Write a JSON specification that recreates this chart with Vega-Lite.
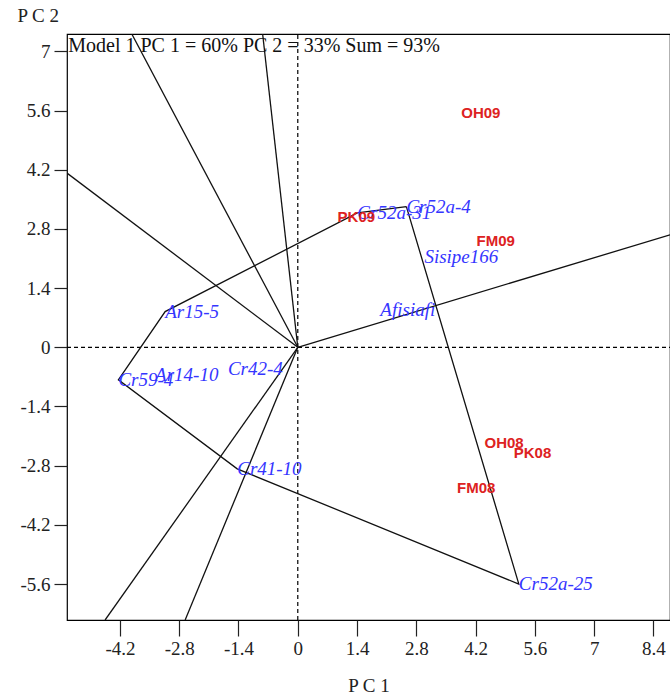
{
  "$schema": "https://vega.github.io/schema/vega-lite/v6.json",
  "width": 603,
  "height": 586,
  "autosize": {"type": "none"},
  "padding": {"left": 67, "top": 34, "right": 0, "bottom": 78},
  "background": "white",
  "config": {
    "view": {"stroke": "black", "strokeWidth": 1.2},
    "axis": {
      "labelFont": "Liberation Serif",
      "labelFontSize": 19,
      "labelColor": "#222222",
      "titleFont": "Liberation Serif",
      "titleFontSize": 19,
      "titleFontWeight": "normal",
      "titleColor": "#222222",
      "tickColor": "#222222",
      "tickWidth": 1.2,
      "domainColor": "black",
      "grid": false
    }
  },
  "datasets": {
    "zero": [
      {"x": 0, "y": -6.45, "x2": 0, "y2": 7.41},
      {"x": -5.45, "y": 0, "x2": 8.79, "y2": 0}
    ],
    "rays": [
      {"x": 0, "y": 0, "x2": -3.92, "y2": 7.41},
      {"x": 0, "y": 0, "x2": -0.83, "y2": 7.41},
      {"x": 0, "y": 0, "x2": -5.45, "y2": 4.12},
      {"x": 0, "y": 0, "x2": 8.79, "y2": 2.66},
      {"x": 0, "y": 0, "x2": -4.55, "y2": -6.45},
      {"x": 0, "y": 0, "x2": -2.66, "y2": -6.45}
    ],
    "hull": [
      {"ord": 1, "name": "Cr52a-4", "x": 2.565, "y": 3.326},
      {"ord": 2, "name": "Cr52a-31", "x": 1.407, "y": 3.177},
      {"ord": 3, "name": "Ar15-5", "x": -3.132, "y": 0.844},
      {"ord": 4, "name": "Cr59-4", "x": -4.236, "y": -0.771},
      {"ord": 5, "name": "Cr41-10", "x": -1.43, "y": -2.875},
      {"ord": 6, "name": "Cr52a-25", "x": 5.22, "y": -5.6},
      {"ord": 7, "name": "Cr52a-4", "x": 2.565, "y": 3.326}
    ],
    "genotypes": [
      {"name": "Cr52a-4", "x": 2.565, "y": 3.326},
      {"name": "Cr52a-31", "x": 1.407, "y": 3.177},
      {"name": "Ar15-5", "x": -3.132, "y": 0.844},
      {"name": "Cr59-4", "x": -4.236, "y": -0.771},
      {"name": "Cr41-10", "x": -1.43, "y": -2.875},
      {"name": "Cr52a-25", "x": 5.22, "y": -5.6},
      {"name": "Afisiafi", "x": 1.95, "y": 0.88},
      {"name": "Sisipe166", "x": 2.99, "y": 2.13},
      {"name": "Ar14-10", "x": -3.37, "y": -0.65},
      {"name": "Cr42-4", "x": -1.65, "y": -0.52}
    ],
    "environments": [
      {"name": "OH09", "x": 3.86, "y": 5.53},
      {"name": "FM09", "x": 4.22, "y": 2.52},
      {"name": "PK09", "x": 0.94, "y": 3.09},
      {"name": "OH08", "x": 4.41, "y": -2.27},
      {"name": "PK08", "x": 5.1, "y": -2.5},
      {"name": "FM08", "x": 3.76, "y": -3.33}
    ],
    "note": [
      {"x": -5.42, "y": 6.98, "label": "Model 1 PC 1 = 60% PC 2 = 33% Sum = 93%"}
    ]
  },
  "encoding": {
    "x": {
      "field": "x",
      "type": "quantitative",
      "scale": {"domain": [-5.45, 8.79], "nice": false, "zero": false},
      "axis": {
        "values": [-4.2, -2.8, -1.4, 0, 1.4, 2.8, 4.2, 5.6, 7, 8.4],
        "labelExpr": "'' + datum.value",
        "tickSize": 16,
        "labelPadding": 3,
        "title": "P C 1",
        "titlePadding": 18,
        "domain": false
      }
    },
    "y": {
      "field": "y",
      "type": "quantitative",
      "scale": {"domain": [-6.45, 7.41], "nice": false, "zero": false},
      "axis": {
        "values": [7, 5.6, 4.2, 2.8, 1.4, 0, -1.4, -2.8, -4.2, -5.6],
        "labelExpr": "'' + datum.value",
        "tickSize": 13,
        "labelPadding": 4,
        "title": "P C 2",
        "titleAngle": 0,
        "titleAlign": "left",
        "titleBaseline": "middle",
        "titleX": -50,
        "titleY": -19,
        "domain": false
      }
    }
  },
  "layer": [
    {
      "data": {"name": "zero"},
      "mark": {"type": "rule", "color": "black", "strokeWidth": 1.2, "strokeDash": [4, 3]},
      "encoding": {"x2": {"field": "x2"}, "y2": {"field": "y2"}}
    },
    {
      "data": {"name": "rays"},
      "mark": {"type": "rule", "color": "#111111", "strokeWidth": 1.3, "clip": true},
      "encoding": {"x2": {"field": "x2"}, "y2": {"field": "y2"}}
    },
    {
      "data": {"name": "hull"},
      "mark": {"type": "line", "color": "#111111", "strokeWidth": 1.3, "clip": true},
      "encoding": {"order": {"field": "ord", "type": "quantitative"}}
    },
    {
      "data": {"name": "genotypes"},
      "mark": {"type": "text", "align": "left", "baseline": "middle", "font": "Liberation Serif", "fontStyle": "italic", "fontSize": 19, "color": "#3535ff"},
      "encoding": {"text": {"field": "name", "type": "nominal"}}
    },
    {
      "data": {"name": "environments"},
      "mark": {"type": "text", "align": "left", "baseline": "middle", "font": "Liberation Sans", "fontWeight": "bold", "fontSize": 15, "color": "#dd2222"},
      "encoding": {"text": {"field": "name", "type": "nominal"}}
    },
    {
      "data": {"name": "note"},
      "mark": {"type": "text", "align": "left", "baseline": "alphabetic", "font": "Liberation Serif", "fontSize": 20, "color": "#111111"},
      "encoding": {"text": {"field": "label", "type": "nominal"}}
    }
  ]
}
